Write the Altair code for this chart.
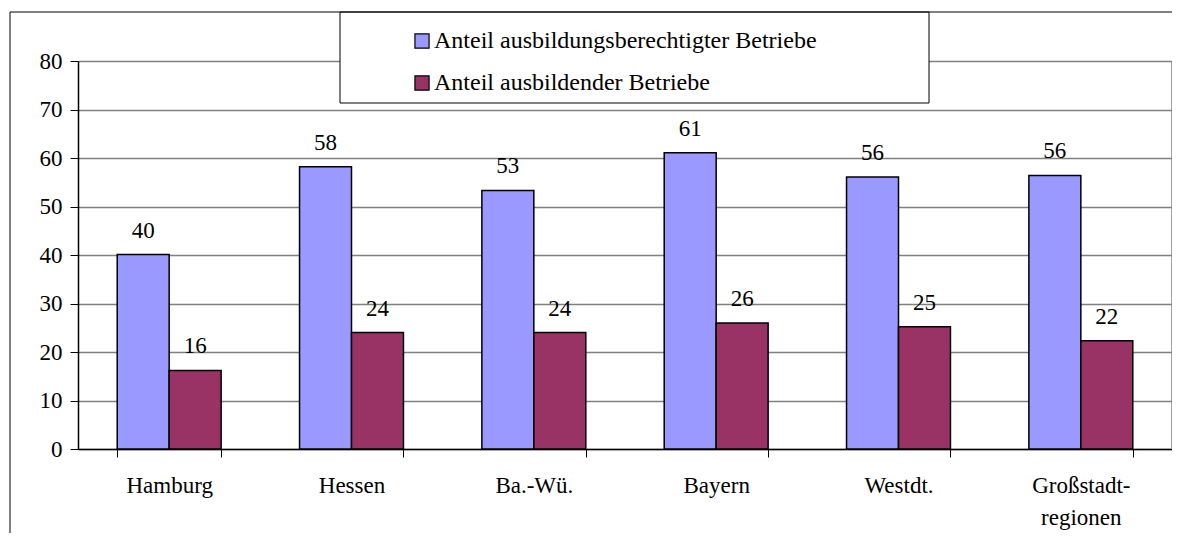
import altair as alt
import pandas as pd

categories = ["Hamburg", "Hessen", "Ba.-Wü.", "Bayern", "Westdt.", "Großstadtregionen"]
series = ["Anteil ausbildungsberechtigter Betriebe", "Anteil ausbildender Betriebe"]
berechtigt = [40.1, 58.2, 53.3, 61.1, 56.1, 56.4]
ausbildend = [16.2, 24.0, 24.0, 26.0, 25.2, 22.3]
colors = ["#9999FF", "#993366"]
y_ticks = [0, 10, 20, 30, 40, 50, 60, 70, 80]

rows = []
for i, c in enumerate(categories):
    rows.append({"cat": c, "series": series[0], "value": berechtigt[i]})
    rows.append({"cat": c, "series": series[1], "value": ausbildend[i]})
df = pd.DataFrame(rows)
one = pd.DataFrame({"a": [0]})

FONT = "Liberation Serif, Times New Roman, serif"
W, H = 1094, 388

x_enc = alt.X(
    "cat:N",
    sort=categories,
    scale=alt.Scale(paddingInner=0.43, paddingOuter=0.215),
    axis=alt.Axis(
        title=None, labelAngle=0, grid=False, tickBand="extent",
        tickSize=8, tickColor="black", tickWidth=1,
        domainColor="black", domainWidth=1.5,
        labelFont=FONT, labelFontSize=23, labelColor="black",
        labelPadding=17, labelLineHeight=32, labelBaseline="top",
        labelExpr="datum.value == 'Großstadtregionen' ? ['Großstadt-', 'regionen'] : datum.label",
    ),
)
y_enc = alt.Y(
    "value:Q",
    scale=alt.Scale(domain=[0, 80], nice=False),
    axis=alt.Axis(
        title=None, values=y_ticks, grid=True, gridColor="#808080", gridWidth=1.5,
        tickSize=8, tickColor="black", tickWidth=1,
        domainColor="black", domainWidth=1.5,
        labelFont=FONT, labelFontSize=23, labelColor="black", labelPadding=8,
    ),
)
xoff = alt.XOffset("series:N", sort=series, scale=alt.Scale(paddingInner=0, paddingOuter=0))
color = alt.Color(
    "series:N",
    sort=series,
    scale=alt.Scale(domain=series, range=colors),
    legend=alt.Legend(
        title=None, orient="none", legendX=332, legendY=-32, direction="vertical",
        symbolType="square", symbolSize=200, symbolStrokeColor="black",
        symbolStrokeWidth=1.2, symbolOpacity=1,
        labelFont=FONT, labelFontSize=24, labelColor="black", labelLimit=600,
        rowPadding=18, padding=0, labelOffset=0,
    ),
)

base = alt.Chart(df)
bars = base.mark_bar(stroke="black", strokeWidth=1.5, opacity=1).encode(
    x=x_enc, xOffset=xoff, y=y_enc, color=color
)
labels = base.mark_text(
    font=FONT, fontSize=23, color="black", baseline="middle", dy=-24
).encode(
    x=alt.X("cat:N", sort=categories),
    xOffset=alt.XOffset("series:N", sort=series),
    y="value:Q",
    text=alt.Text("value:Q", format=".0f"),
)

legend_box = alt.Chart(one).mark_rect(fill="white", stroke="black", strokeWidth=1).encode(
    x=alt.value(262), x2=alt.value(851), y=alt.value(-49), y2=alt.value(42)
)
right_border = alt.Chart(one).mark_rule(color="#808080", strokeWidth=1.5).encode(
    x=alt.value(W), y=alt.value(0), y2=alt.value(H)
)
frame_top = alt.Chart(one).mark_rule(color="black", strokeWidth=1).encode(
    x=alt.value(-68), x2=alt.value(1110), y=alt.value(-49)
)
frame_left = alt.Chart(one).mark_rule(color="black", strokeWidth=1).encode(
    x=alt.value(-68), y=alt.value(-49), y2=alt.value(490)
)

chart = (
    alt.layer(bars, labels, right_border, legend_box, frame_top, frame_left)
    .properties(
        width=W, height=H,
        autosize=alt.AutoSizeParams(type="none"),
        padding={"left": 70, "top": 53, "right": 0, "bottom": 84},
        background="white",
    )
    .configure(font=FONT)
    .configure_view(strokeWidth=0)
)

chart.save("out.html", embed_options={"renderer": "svg", "actions": False})
